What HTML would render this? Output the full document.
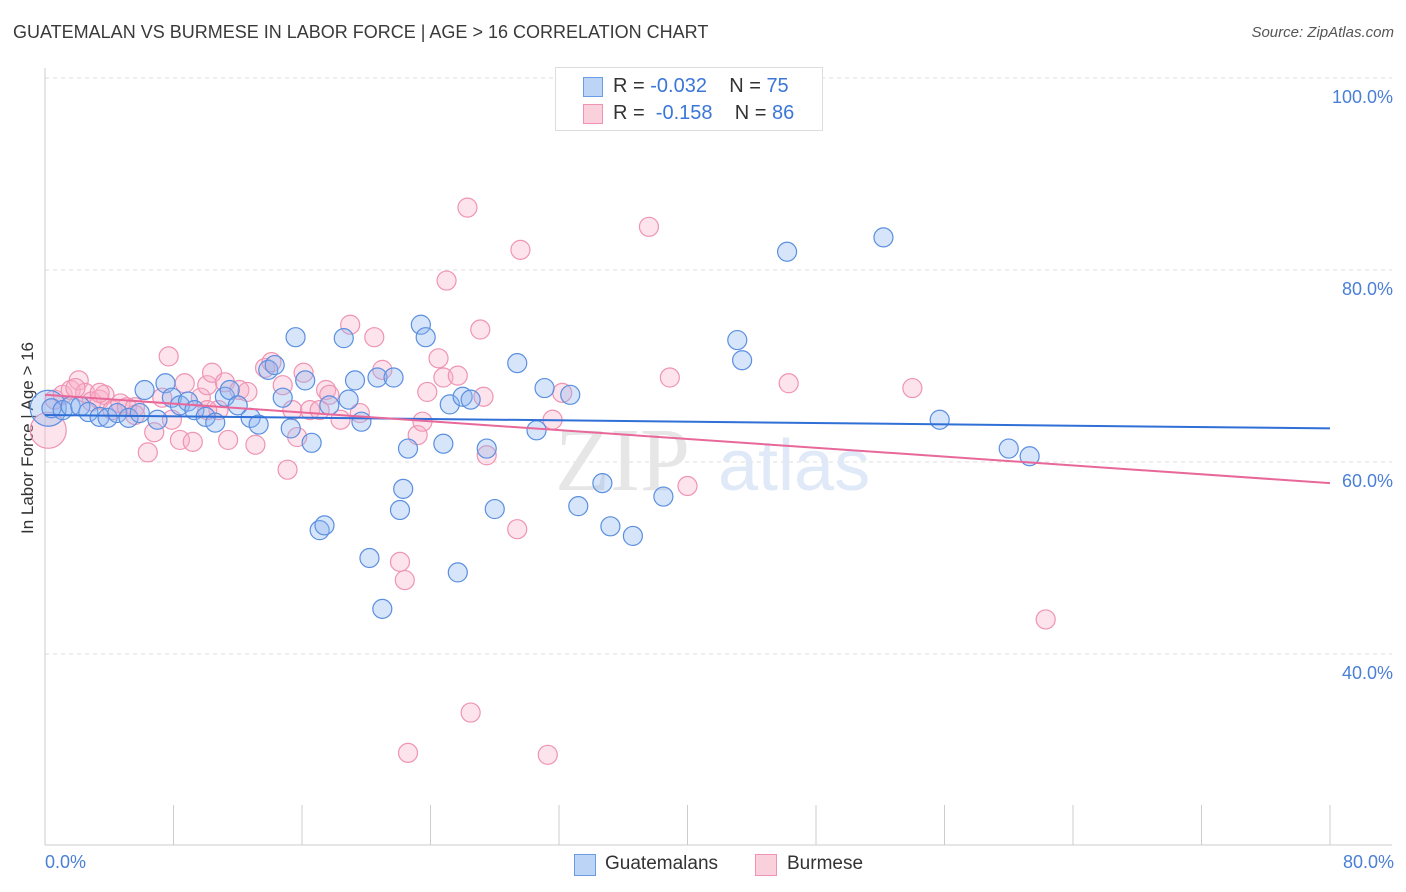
<!DOCTYPE html>
<html><head><meta charset="utf-8">
<style>
body{margin:0;background:#fff;font-family:"Liberation Sans",sans-serif;}
#wrap{position:relative;width:1406px;height:892px;overflow:hidden;}
.t{position:absolute;white-space:nowrap;}
</style></head><body>
<div id="wrap">
<div class="t" style="left:13px;top:22px;font-size:18px;color:#3a3a3a;">GUATEMALAN VS BURMESE IN LABOR FORCE | AGE &gt; 16 CORRELATION CHART</div>
<div class="t" style="right:12px;top:24px;font-size:15px;font-style:italic;color:#555;">Source: ZipAtlas.com</div>
<div class="t" style="left:-52px;top:444px;font-size:17px;color:#333;transform:rotate(-90deg);width:160px;text-align:center;">In Labor Force | Age &gt; 16</div>
<svg id="svg" width="1406" height="892" style="position:absolute;left:0;top:0"></svg>
<div style="position:absolute;left:555px;top:67px;width:266px;height:62px;border:1px solid #ddd;background:#fff;font-size:20px;">
 <div style="position:absolute;left:27px;top:9px;width:18px;height:18px;background:#bcd4f6;border:1px solid #6b9be3;"></div>
 <div class="t" style="left:57px;top:7px;color:#333;">R = <span style="color:#3b76d8">-0.032</span>&nbsp;&nbsp;&nbsp; N = <span style="color:#3b76d8">75</span></div>
 <div style="position:absolute;left:27px;top:36px;width:18px;height:18px;background:#fbd0dd;border:1px solid #ef94b3;"></div>
 <div class="t" style="left:57px;top:34px;color:#333;">R = &nbsp;<span style="color:#3b76d8">-0.158</span>&nbsp;&nbsp;&nbsp; N = <span style="color:#3b76d8">86</span></div>
</div>
<div class="t" style="left:45px;top:852px;font-size:18px;color:#4a7fd6;">0.0%</div>
<div class="t" style="right:12px;top:852px;font-size:18px;color:#4a7fd6;">80.0%</div>
<div style="position:absolute;left:574px;top:854px;width:20px;height:20px;background:#bcd4f6;border:1px solid #6b9be3;"></div>
<div class="t" style="left:605px;top:853px;font-size:19px;color:#333;">Guatemalans</div>
<div style="position:absolute;left:755px;top:854px;width:20px;height:20px;background:#fbd0dd;border:1px solid #ef94b3;"></div>
<div class="t" style="left:787px;top:853px;font-size:19px;color:#333;">Burmese</div>
</div>
<script>
const yTicks=[100,80,60,40];
const yTickLabels=["100.0%","80.0%","60.0%","40.0%"];
const xTicks=[0,8,16,24,32,40,48,56,64,72,80];
const guatX=[0.2,0.4,1.1,1.6,2.2,2.7,3.4,3.9,4.5,5.2,5.9,6.2,7.0,7.5,7.9,8.4,8.9,9.3,10.0,10.6,11.2,11.5,12.0,12.8,13.3,13.9,14.3,14.8,15.3,15.6,16.2,16.6,17.1,17.4,17.7,18.6,18.9,19.3,19.7,20.2,20.7,21.0,21.7,22.1,22.3,22.6,23.4,23.7,24.8,25.2,25.7,26.0,26.5,27.5,28.0,29.4,30.6,31.1,32.7,33.2,34.7,35.2,36.6,38.5,43.1,43.4,46.2,52.2,55.7,60.0,61.3];
const guatY=[65.6,65.6,65.4,65.8,65.8,65.2,64.7,64.6,65.1,64.6,65.1,67.5,64.4,68.2,66.7,65.9,66.3,65.4,64.7,64.1,66.8,67.5,65.9,64.6,63.9,69.6,70.1,66.7,63.5,73.0,68.5,62.0,52.9,53.4,65.9,72.9,66.5,68.5,64.2,50.0,68.8,44.7,68.8,55.0,57.2,61.4,74.3,73.0,61.9,66.0,48.5,66.8,66.5,61.4,55.1,70.3,63.3,67.7,67.0,55.4,57.8,53.3,52.3,56.4,72.7,70.6,81.9,83.4,64.4,61.4,60.6];
const burX=[0.2,0.6,1.1,1.6,2.1,2.5,2.9,3.4,3.7,4.2,4.7,5.1,5.6,6.4,6.8,7.3,7.7,7.9,8.4,8.7,9.2,9.7,10.1,10.4,10.8,11.2,11.4,12.1,12.6,13.1,13.7,14.1,14.8,15.1,15.4,15.7,16.1,16.5,17.1,17.5,17.7,18.4,19.0,19.6,20.5,21.0,22.1,22.4,22.6,23.2,23.5,23.8,24.5,24.8,25.0,25.7,26.3,26.5,27.1,27.3,27.5,29.6,29.4,31.3,31.6,32.2,37.6,38.9,40.0,46.3,54.0,62.3,10.1,5.6,3.4,1.9];
const burY=[63.3,66.5,67.0,67.5,68.5,67.2,66.3,66.5,67.0,65.4,66.1,65.7,65.7,61.0,63.1,66.7,71.0,64.4,62.3,68.2,62.1,66.7,68.0,69.3,65.4,68.3,62.3,67.5,67.3,61.8,69.8,70.4,68.0,59.2,65.4,62.6,69.3,65.4,65.4,67.5,67.0,64.4,74.3,65.1,73.0,69.6,49.6,47.7,29.7,62.8,64.2,67.3,70.8,68.8,78.9,69.0,86.5,33.9,73.8,66.8,60.7,82.1,53.0,29.5,64.4,67.2,84.5,68.8,57.5,68.2,67.7,43.6,65.4,64.9,67.2,67.7];
const guatTrend=[64.9,63.5];
const burTrend=[67.0,57.8];
const X=v=>45+v/80*1285;
const Y=v=>78+(100-v)*9.6;
const svg=document.getElementById('svg');
const NS="http://www.w3.org/2000/svg";
function mk(tag,attrs){const e=document.createElementNS(NS,tag);for(const k in attrs)e.setAttribute(k,attrs[k]);svg.appendChild(e);return e;}
yTicks.forEach((t,i)=>{
 const g=mk('line',{x1:45,x2:1392,y1:Y(t),y2:Y(t),stroke:'#ddd','stroke-dasharray':'4,4'});
 
 
 const tx=mk('text',{x:1393,y:Y(t)+25,'text-anchor':'end','font-size':18,fill:'#4a7fd6','font-family':'Liberation Sans, sans-serif'});
 tx.textContent=yTickLabels[i];
 
 
});
const ax=mk('line',{x1:45,x2:45,y1:68,y2:845,stroke:'#ccc'});


const bx=mk('line',{x1:45,x2:1392,y1:845,y2:845,stroke:'#ccc'});


xTicks.forEach(t=>{
 const l=mk('line',{x1:X(t),x2:X(t),y1:805,y2:845,stroke:'#ccc'});
 
 
});
const wm=mk('text',{x:555,y:490,'font-size':90,fill:'#e6e6e6','font-family':'Liberation Serif, serif'});
wm.textContent='ZIP';


const wm2=mk('text',{x:718,y:490,'font-size':72,fill:'#dfe9f7','font-family':'Liberation Sans, sans-serif'});
wm2.textContent='atlas';


function pts(xs,ys,fill,stroke,name){
 xs.forEach((x,i)=>{
  const c=mk('circle',{cx:X(x),cy:Y(ys[i]),r:(i===0?18:9.5),fill:fill,stroke:stroke,'stroke-width':1.2});
  
  
 });
}
pts(burX,burY,'rgba(248,175,200,0.35)','#ef94b3','burmese-point');
pts(guatX,guatY,'rgba(140,180,240,0.35)','#5b8fe0','guatemalan-point');
const tl1=mk('line',{x1:X(0),x2:X(80),y1:Y(guatTrend[0]),y2:Y(guatTrend[1]),stroke:'#2f6fd6','stroke-width':2});


const tl2=mk('line',{x1:X(0),x2:X(80),y1:Y(burTrend[0]),y2:Y(burTrend[1]),stroke:'#e8689a','stroke-width':2});


</script>
</body></html>
